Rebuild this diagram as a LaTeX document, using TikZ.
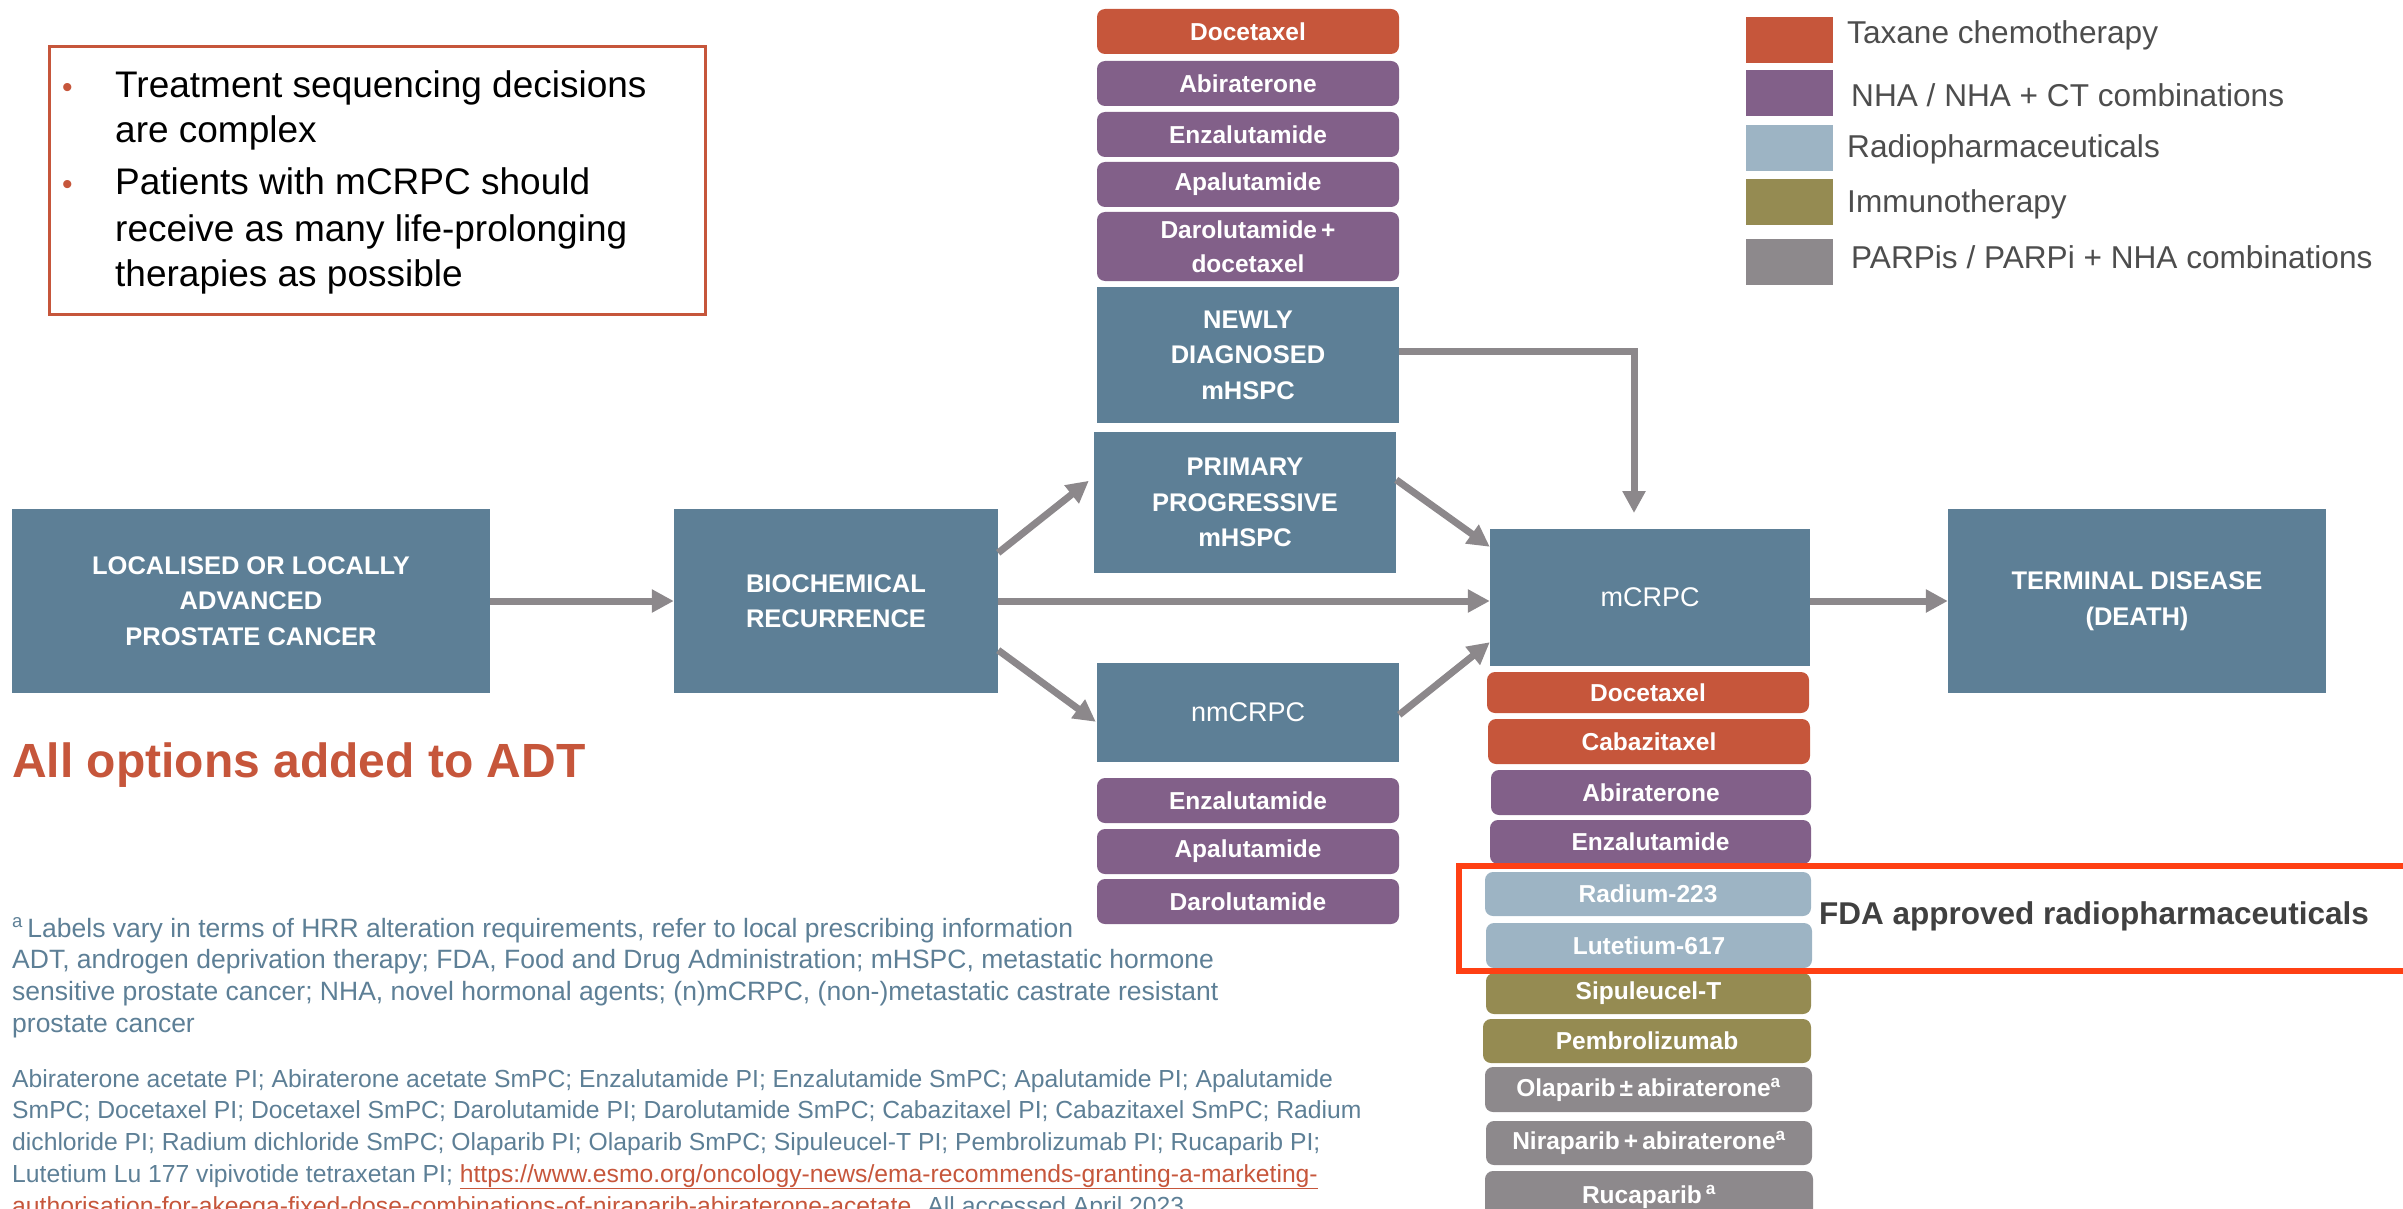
\documentclass[tikz,border=0pt]{standalone}
\usepackage{fontspec}
\setmainfont{Liberation Sans}
\usepackage{graphicx}
\usetikzlibrary{arrows.meta,calc}
\definecolor{boxblue}{RGB}{93,127,150}
\definecolor{taxane}{RGB}{198,86,59}
\definecolor{nha}{RGB}{130,96,137}
\definecolor{radio}{RGB}{157,180,196}
\definecolor{immuno}{RGB}{149,139,82}
\definecolor{parp}{RGB}{141,137,140}
\definecolor{arrowgray}{RGB}{140,136,139}
\definecolor{hlred}{RGB}{255,64,20}
\definecolor{legtext}{RGB}{77,77,77}
\definecolor{fdatext}{RGB}{64,64,64}
\newcommand\fs[2]{\fontsize{#1}{#2}\selectfont}
\newcommand\bx[7]{\node[#6, minimum width={(#3-#1)*1pt}, minimum height={(#4-#2)*1pt}] (#5) at ({(#1+#3)/2},{(#2+#4)/2}) {#7};}
\tikzset{
  stage/.style={fill=boxblue, text=white, font=\fs{25.5}{35.5}\bfseries, align=center, inner sep=0pt},
  pill/.style={rounded corners=8pt, text=white, font=\fs{24.5}{34}\bfseries, align=center, inner sep=0pt},
  arr/.style={draw=arrowgray, line width=7pt, -{Triangle[length=22pt,width=22pt]}},
  legsq/.style={inner sep=0pt, minimum width=87pt, minimum height=46pt},
  legtx/.style={anchor=base west, inner sep=0pt, text=legtext, font=\fs{31.6}{36}},
  bultx/.style={anchor=base west, inner sep=0pt, text=black, font=\fs{37}{46}},
  buldot/.style={anchor=base west, inner sep=0pt, text=taxane, font=\fs{30}{46}},
  foot/.style={anchor=base west, inner sep=0pt, text=boxblue, font=\fs{26.5}{32}},
  refs/.style={anchor=base west, inner sep=0pt, text=boxblue, font=\fs{24.7}{32}}
}
\begin{document}
\begin{tikzpicture}[x=1pt,y=-1pt]
\useasboundingbox (0,0) rectangle (2403,1209);
\clip (0,0) rectangle (2403,1209);

% key message box
\node[draw=taxane, line width=3pt, minimum width=656pt, minimum height=267pt, inner sep=0pt] (keybox) at (377,180.5) {};
\node[buldot] (d1) at (62,98) {•};
\node[buldot] (d2) at (62,195) {•};
\node[bultx] (k1) at (115,98) {Treatment sequencing decisions};
\node[bultx] (k2) at (115,143) {are complex};
\node[bultx] (k3) at (115,195) {Patients with mCRPC should};
\node[bultx] (k4) at (115,241) {receive as many life-prolonging};
\node[bultx] (k5) at (115,286) {therapies as possible};

% legend
\node[legsq, fill=taxane] (lg1) at (1789.5,40) {};
\node[legsq, fill=nha] (lg2) at (1789.5,93) {};
\node[legsq, fill=radio] (lg3) at (1789.5,148) {};
\node[legsq, fill=immuno] (lg4) at (1789.5,202) {};
\node[legsq, fill=parp] (lg5) at (1789.5,262) {};
\node[legtx] (lt1) at (1847,44) {Taxane chemotherapy};
\node[legtx] (lt2) at (1851,107) {NHA / NHA + CT combinations};
\node[legtx] (lt3) at (1847,158) {Radiopharmaceuticals};
\node[legtx] (lt4) at (1847,213) {Immunotherapy};
\node[legtx] (lt5) at (1851,268) {PARPis / PARPi + NHA combinations};

% stages
\bx{12}{509}{490}{693}{loc}{stage}{LOCALISED OR LOCALLY\\ADVANCED\\PROSTATE CANCER}
\bx{674}{509}{998}{693}{bio}{stage}{BIOCHEMICAL\\RECURRENCE}
\bx{1097}{287}{1399}{423}{newly}{stage}{NEWLY\\DIAGNOSED\\mHSPC}
\bx{1094}{432}{1396}{573}{prim}{stage}{PRIMARY\\PROGRESSIVE\\mHSPC}
\bx{1097}{663}{1399}{762}{nm}{stage, font=\fs{27}{35}}{nmCRPC}
\bx{1490}{529}{1810}{666}{mcrpc}{stage, font=\fs{27}{35}}{mCRPC}
\bx{1948}{509}{2326}{693}{term}{stage}{TERMINAL DISEASE\\(DEATH)}

% mHSPC options
\bx{1097}{9}{1399}{54}{tp1}{pill, fill=taxane}{Docetaxel}
\bx{1097}{61}{1399}{106}{tp2}{pill, fill=nha}{Abiraterone}
\bx{1097}{112}{1399}{157}{tp3}{pill, fill=nha}{Enzalutamide}
\bx{1097}{162}{1399}{207}{tp4}{pill, fill=nha}{Apalutamide}
\bx{1097}{212}{1399}{281}{tp5}{pill, fill=nha}{Darolutamide\,+\\docetaxel}

% nmCRPC options
\bx{1097}{778}{1399}{823}{np1}{pill, fill=nha}{Enzalutamide}
\bx{1097}{829}{1399}{874}{np2}{pill, fill=nha}{Apalutamide}
\bx{1097}{879}{1399}{924}{np3}{pill, fill=nha}{Darolutamide}

% mCRPC options
\bx{1487}{672}{1809}{713}{mp1}{pill, fill=taxane}{Docetaxel}
\bx{1488}{719}{1810}{764}{mp2}{pill, fill=taxane}{Cabazitaxel}
\bx{1491}{770}{1811}{815}{mp3}{pill, fill=nha}{Abiraterone}
\bx{1490}{820}{1811}{864}{mp4}{pill, fill=nha}{Enzalutamide}
\bx{1485}{872}{1811}{916}{mp5}{pill, fill=radio}{Radium-223}
\bx{1486}{923}{1812}{968}{mp6}{pill, fill=radio}{Lutetium-617}
\bx{1486}{973}{1811}{1014}{mp7}{pill, fill=immuno}{Sipuleucel-T}
\bx{1483}{1019}{1811}{1063}{mp8}{pill, fill=immuno}{Pembrolizumab}
\bx{1485}{1067}{1812}{1112}{mp9}{pill, fill=parp}{Olaparib\,±\,abiraterone\textsuperscript{a}}
\bx{1486}{1121}{1812}{1165}{mp10}{pill, fill=parp}{Niraparib\,+\,abiraterone\textsuperscript{a}}
\bx{1485}{1171}{1813}{1222}{mp11}{pill, fill=parp}{Rucaparib\,\textsuperscript{a}}

% FDA highlight
\node[draw=hlred, line width=6pt, minimum width=1040pt, minimum height=105pt, inner sep=0pt] (fdabox) at (1979,918.5) {};
\node[anchor=base west, inner sep=0pt, text=fdatext, font=\fs{31.5}{36}\bfseries] (fdatx) at (1819,924) {FDA approved radiopharmaceuticals};

% arrows
\coordinate (dropc) at (1634,513);
\draw[arr] (loc) -- (bio);
\draw[arr] ([yshift=-44pt]bio.north east) -- ([xshift=-5pt,yshift=-49pt]prim.north west);
\draw[arr] ([yshift=43pt]bio.south east) -- ([xshift=-1pt,yshift=-59pt]nm.north west);
\draw[arr] (bio.east) -- (bio.east -| mcrpc.west);
\draw[arr] ([yshift=-48pt]prim.north east) -- ([yshift=-18pt]mcrpc.north west);
\draw[arr] ([yshift=-52pt]nm.north east) -- ([yshift=24pt]mcrpc.south west);
\draw[arr] ([yshift=4pt]newly.east) -| (dropc);
\draw[arr] (mcrpc.east |- term.west) -- (term.west);

% ADT note
\node[anchor=base west, inner sep=0pt, text=taxane, font=\fs{48}{56}\bfseries] (adt) at (12,777) {All options added to ADT};

% footnotes
\node[foot] (f1) at (12,937) {\textsuperscript{a}\,Labels vary in terms of HRR alteration requirements, refer to local prescribing information};
\node[foot] (f2) at (12,968) {ADT, androgen deprivation therapy; FDA, Food and Drug Administration; mHSPC, metastatic hormone};
\node[foot] (f3) at (12,1000) {sensitive prostate cancer; NHA, novel hormonal agents; (n)mCRPC, (non-)metastatic castrate resistant};
\node[foot] (f4) at (12,1032) {prostate cancer};
\node[refs] (r1) at (12,1087) {Abiraterone acetate PI; Abiraterone acetate SmPC; Enzalutamide PI; Enzalutamide SmPC; Apalutamide PI; Apalutamide};
\node[refs] (r2) at (12,1118) {SmPC; Docetaxel PI; Docetaxel SmPC; Darolutamide PI; Darolutamide SmPC; Cabazitaxel PI; Cabazitaxel SmPC; Radium};
\node[refs] (r3) at (12,1150) {dichloride PI; Radium dichloride SmPC; Olaparib PI; Olaparib SmPC; Sipuleucel-T PI; Pembrolizumab PI; Rucaparib PI;};
\node[refs] (r4) at (12,1182) {Lutetium Lu 177 vipivotide tetraxetan PI; {\color{taxane}\underline{https://www.esmo.org/oncology-news/ema-recommends-granting-a-marketing-}}};
\node[refs] (r5) at (12,1214) {{\color{taxane}\underline{authorisation-for-akeega-fixed-dose-combinations-of-niraparib-abiraterone-acetate}}. All accessed April 2023};
\end{tikzpicture}
\end{document}
